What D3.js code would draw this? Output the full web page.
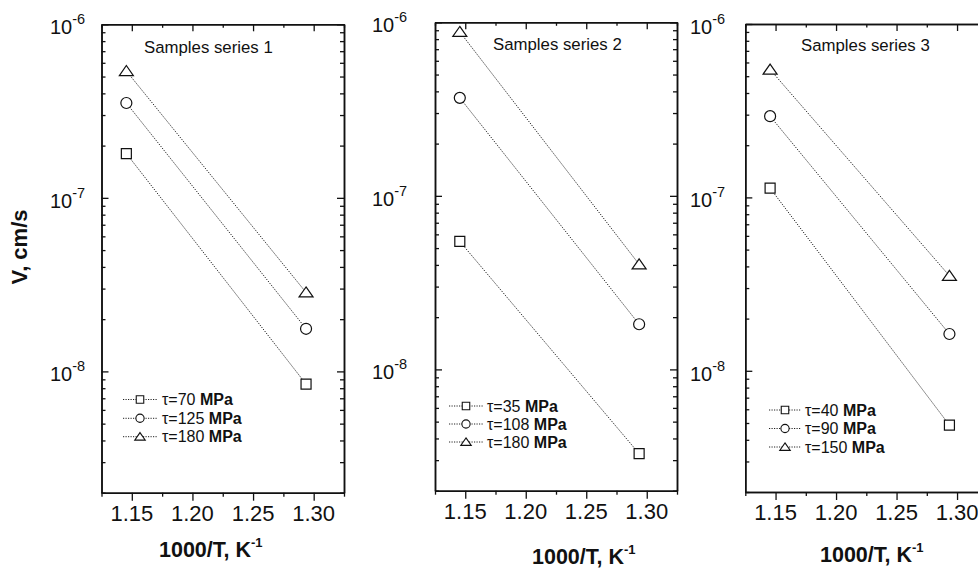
<!DOCTYPE html>
<html><head><meta charset="utf-8">
<script src="https://cdn.jsdelivr.net/npm/d3@7"></script>
<style>
html,body{margin:0;padding:0;background:#fff;}
svg{display:block;font-family:"Liberation Sans",Arial,Helvetica,sans-serif;}
</style></head>
<body>
<svg id="chart" width="978" height="572"></svg>
<script>
// ---- data ----
const xValues = [1.1455, 1.2937];            // 1000/T, K^-1
const xTicks = [1.15, 1.20, 1.25, 1.30];
const xMinorTicks = [1.125, 1.175, 1.225, 1.275, 1.325];
const yExponents = [-6, -7, -8];
const shapes = ["square", "circle", "triangle"];

const s1Tau = [70, 125, 180];
const s1V = [[1.80e-7, 8.45e-9], [3.52e-7, 1.76e-8], [5.38e-7, 2.85e-8]];
const s2Tau = [35, 108, 180];
const s2V = [[5.46e-8, 3.27e-9], [3.67e-7, 1.82e-8], [8.8e-7, 4.03e-8]];
const s3Tau = [40, 90, 150];
const s3V = [[1.13e-7, 4.86e-9], [2.94e-7, 1.63e-8], [5.46e-7, 3.53e-8]];
const panelTitles = ["Samples series 1", "Samples series 2", "Samples series 3"];

// ---- layout ----
const panels = [
  {left:101.5, right:344, top:24.3, bottom:492.7, tau:s1Tau, v:s1V, title:panelTitles[0],
   titleX:144, titleY:53, ylabX:50, leg:{x0:123, x1:157, mx:140, tx:162, rows:[399.5,418.3,436.7]},
   xtX:159, xtY:557},
  {left:435, right:677, top:22.3, bottom:490.7, tau:s2Tau, v:s2V, title:panelTitles[1],
   titleX:493, titleY:50, ylabX:372, leg:{x0:449, x1:483, mx:466, tx:487, rows:[406,424,442]},
   xtX:532, xtY:564},
  {left:745.3, right:987.3, top:24, bottom:492, tau:s3Tau, v:s3V, title:panelTitles[2],
   titleX:801, titleY:51, ylabX:690, leg:{x0:769, x1:801, mx:785, tx:805, rows:[410,428.5,447]},
   xtX:820, xtY:562}
];

const svg = d3.select("#chart");

function markerPath(shape, s) {
  if (shape === "square") { const h = s*0.5; return `M${-h},${-h}H${h}V${h}H${-h}Z`; }
  if (shape === "circle") { const r = s*0.55; return `M${r},0A${r},${r} 0 1,1 ${-r},0A${r},${r} 0 1,1 ${r},0Z`; }
  const w = s*0.7, ht = s*0.55; return `M0,${-ht}L${w},${ht*0.82}L${-w},${ht*0.82}Z`;
}

panels.forEach(p => {
  const g = svg.append("g");
  const x = d3.scaleLinear().domain([1.125, 1.325]).range([p.left, p.right]);
  const y = d3.scaleLog().domain([2e-9, 1e-6]).range([p.bottom, p.top]);

  const yMinor = [];
  [-9, -8, -7].forEach(e => { for (let k = 2; k <= 9; k++) yMinor.push(k * Math.pow(10, e)); });
  const yMajor = yExponents.map(e => Math.pow(10, e));

  const styleAxis = sel => {
    sel.selectAll("path").attr("stroke", "#111").attr("stroke-width", 1.5);
    sel.selectAll("line").attr("stroke", "#111").attr("stroke-width", 1.3);
    sel.selectAll("text").remove();
  };

  // bottom (outward)
  g.append("g").attr("transform", `translate(0,${p.bottom})`)
    .call(d3.axisBottom(x).tickValues(xTicks).tickSize(8).tickSizeOuter(0)).call(styleAxis);
  g.append("g").attr("transform", `translate(0,${p.bottom})`)
    .call(d3.axisBottom(x).tickValues(xMinorTicks).tickSize(4).tickSizeOuter(0)).call(styleAxis);
  // top (inward)
  g.append("g").attr("transform", `translate(0,${p.top})`)
    .call(d3.axisBottom(x).tickValues(xTicks).tickSize(7).tickSizeOuter(0)).call(styleAxis);
  g.append("g").attr("transform", `translate(0,${p.top})`)
    .call(d3.axisBottom(x).tickValues(xMinorTicks).tickSize(3.5).tickSizeOuter(0)).call(styleAxis);
  // left (inward)
  g.append("g").attr("transform", `translate(${p.left},0)`)
    .call(d3.axisRight(y).tickValues(yMajor).tickSize(7).tickSizeOuter(0)).call(styleAxis);
  g.append("g").attr("transform", `translate(${p.left},0)`)
    .call(d3.axisRight(y).tickValues(yMinor).tickSize(4).tickSizeOuter(0)).call(styleAxis);
  // right (inward)
  g.append("g").attr("transform", `translate(${p.right},0)`)
    .call(d3.axisLeft(y).tickValues(yMajor).tickSize(7).tickSizeOuter(0)).call(styleAxis);
  g.append("g").attr("transform", `translate(${p.right},0)`)
    .call(d3.axisLeft(y).tickValues(yMinor).tickSize(4).tickSizeOuter(0)).call(styleAxis);

  // x tick labels
  g.selectAll(".xl").data(xTicks).enter().append("text")
    .attr("x", d => x(d)).attr("y", p.bottom + 28)
    .attr("text-anchor", "middle").attr("font-size", 22).attr("fill", "#111")
    .text(d => d.toFixed(2));

  // y tick labels 10^e
  yExponents.forEach(e => {
    const t = g.append("text").attr("x", p.ylabX).attr("y", y(Math.pow(10, e)) + 10)
      .attr("font-size", 20).attr("fill", "#111");
    t.append("tspan").text("10");
    t.append("tspan").attr("dy", -10).attr("font-size", 14.5).text(String(e));
  });

  // panel title
  g.append("text").attr("x", p.titleX).attr("y", p.titleY)
    .attr("font-size", 16.8).attr("fill", "#111").text(p.title);

  // series lines
  const line = d3.line().x((d, i) => x(xValues[i])).y(d => y(d));
  p.v.forEach((vals, si) => {
    g.append("path").attr("d", line(vals)).attr("fill", "none")
      .attr("stroke", "#222").attr("stroke-width", 1).attr("stroke-dasharray", "1.2,1.3");
  });
  p.v.forEach((vals, si) => {
    g.selectAll(null).data(vals).enter().append("path")
      .attr("transform", (d, i) => `translate(${x(xValues[i])},${y(d)})`)
      .attr("d", markerPath(shapes[si], 10))
      .attr("fill", "#fff").attr("stroke", "#111").attr("stroke-width", 1.2);
  });

  // legend
  p.tau.forEach((tau, si) => {
    const ry = p.leg.rows[si];
    g.append("line").attr("x1", p.leg.x0).attr("x2", p.leg.x1).attr("y1", ry).attr("y2", ry)
      .attr("stroke", "#222").attr("stroke-width", 1).attr("stroke-dasharray", "1.2,1.3");
    g.append("path").attr("transform", `translate(${p.leg.mx},${ry})`)
      .attr("d", markerPath(shapes[si], 7.5)).attr("fill", "#fff").attr("stroke", "#111").attr("stroke-width", 1.1);
    const t = g.append("text").attr("x", p.leg.tx).attr("y", ry + 5.5).attr("font-size", 16).attr("fill", "#111");
    t.append("tspan").text("\u03C4=" + tau + " ");
    t.append("tspan").attr("font-weight", "bold").text("MPa");
  });

  // x axis title
  const xt = g.append("text").attr("x", p.xtX).attr("y", p.xtY)
    .attr("font-size", 21.5).attr("font-weight", "bold").attr("fill", "#111");
  xt.append("tspan").text("1000/T, K");
  xt.append("tspan").attr("dy", -10).attr("font-size", 13).text("-1");
});

// y axis title
svg.append("text").attr("transform", "translate(27,247) rotate(-90)")
  .attr("text-anchor", "middle").attr("font-size", 22).attr("font-weight", "bold").attr("fill", "#111")
  .text("V, cm/s");
</script>
</body></html>
